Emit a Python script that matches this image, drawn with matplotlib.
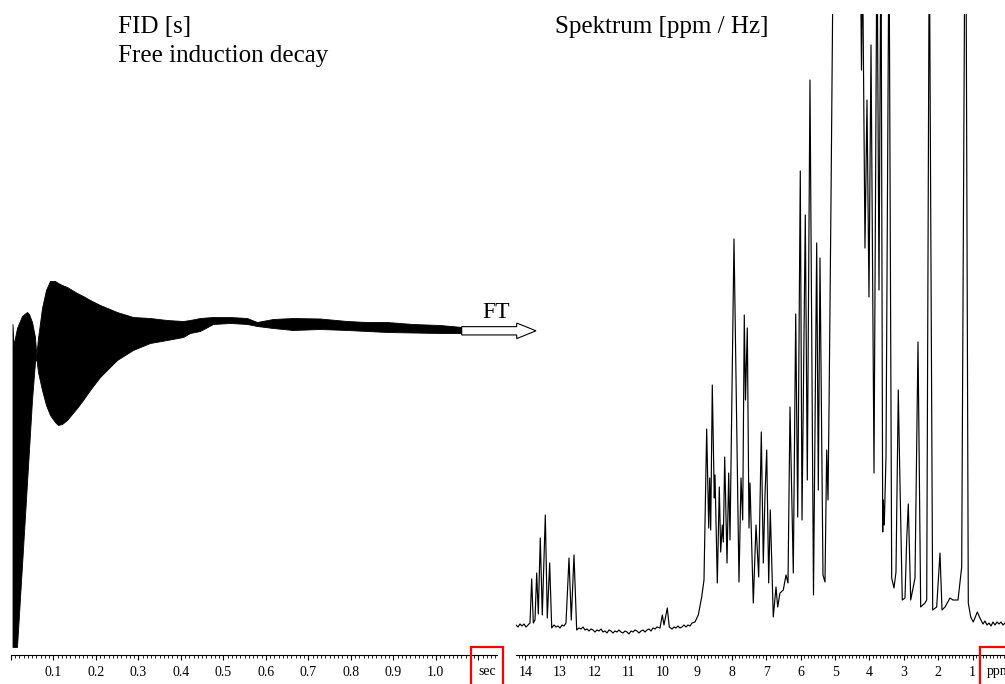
import numpy as np
import matplotlib.pyplot as plt
from matplotlib.patches import Rectangle, FancyArrow
from matplotlib.ticker import FixedLocator, FixedFormatter, MultipleLocator

plt.rcParams['font.family'] = ['Liberation Serif', 'DejaVu Serif']

## FID envelope (time in s, amplitude in arbitrary units)
fid_t = [0.0040, 0.0064, 0.0146, 0.0264, 0.0381, 0.0428, 0.0499, 0.0569, 0.0600, 0.0640,
         0.0734, 0.0828, 0.0922, 0.1040, 0.1111, 0.1205, 0.1322, 0.1558, 0.1699, 0.1864,
         0.2099, 0.2499, 0.2875, 0.3275, 0.3675, 0.4052, 0.4216, 0.4452, 0.4758, 0.5158,
         0.5558, 0.5793, 0.6169, 0.6640, 0.7275, 0.7911, 0.8381, 0.8852, 0.9464, 1.0099, 1.0616]
fid_upper = [0.6, -1.5, 0.2, 1.4, 1.8, 1.6, 0.8, -0.7, -2.5, -0.8,
             2.2, 4.0, 4.9, 4.9, 4.7, 4.5, 4.3, 3.7, 3.4, 3.0,
             2.5, 1.8, 1.3, 1.2, 1.0, 0.9, 1.0, 1.2, 1.3, 1.3,
             1.2, 0.8, 1.1, 1.2, 1.15, 0.9, 0.8, 0.8, 0.6, 0.5, 0.3]
fid_lower = [-31.7, -31.7, -31.7, -23.5, -15.3, -12.0, -7.0, -3.2, -2.8, -4.2,
             -6.0, -7.5, -8.5, -9.2, -9.5, -9.4, -9.0, -7.8, -7.0, -6.0,
             -4.7, -3.0, -2.0, -1.3, -1.0, -0.7, -0.3, -0.1, 0.6, 0.7,
             0.6, 0.4, 0.2, 0.0, 0.1, 0.0, -0.1, -0.2, -0.25, -0.3, -0.3]

## 1H spectrum (ppm, intensity in arbitrary units), one row per region
spec_ppm = [
    14.276, 14.218, 14.160, 14.102, 14.044, 13.986, 13.927, 13.869,
    13.820, 13.773, 13.724, 13.674, 13.628, 13.570, 13.512, 13.424, 13.366, 13.297,
    13.238, 13.172, 13.113, 13.055, 12.997, 12.939, 12.881, 12.823,
    12.735, 12.669, 12.590,
    12.512, 12.445, 12.387, 12.328, 12.270, 12.212, 12.154, 12.096, 12.038, 11.980,
    11.922, 11.864, 11.805, 11.747, 11.689, 11.631, 11.573, 11.515, 11.456, 11.398,
    11.340, 11.282, 11.224, 11.166, 11.108, 11.049, 10.991, 10.933, 10.875, 10.817,
    10.759, 10.701, 10.642, 10.584, 10.526, 10.468, 10.410, 10.352, 10.294, 10.235,
    10.177, 10.090,
    10.023, 9.974, 9.878,
    9.820, 9.741, 9.683, 9.625, 9.567, 9.509, 9.451, 9.392, 9.334, 9.276, 9.218, 9.160, 9.073,
    8.977, 8.878, 8.811, 8.733, 8.674, 8.645, 8.616, 8.570, 8.512, 8.491,
    8.424, 8.366, 8.326, 8.279, 8.250, 8.209, 8.142, 8.093, 8.055, 7.939,
    7.794, 7.735, 7.686, 7.640, 7.605, 7.552, 7.503, 7.474, 7.378, 7.299,
    7.221, 7.145, 7.087, 7.038, 6.988, 6.930, 6.884, 6.797, 6.718, 6.669,
    6.602, 6.506, 6.427, 6.369,
    6.311, 6.215, 6.145, 6.087, 6.012, 5.962, 5.866, 5.808, 5.730, 5.628,
    5.535, 5.488, 5.439, 5.352, 5.294, 5.244, 5.206, 5.177, 5.119, 5.032,
    4.625, 4.276,
    4.233, 4.203, 4.131, 4.073, 4.015, 3.956, 3.869, 3.782, 3.724, 3.666,
    3.616, 3.599, 3.570, 3.520, 3.433,
    3.355, 3.288, 3.230, 3.163, 3.128, 3.047, 2.968, 2.919, 2.872, 2.802,
    2.727, 2.677, 2.590, 2.512, 2.387, 2.337, 2.262, 2.163, 2.047, 1.951,
    1.892, 1.805, 1.660, 1.573, 1.427, 1.320, 1.209, 1.128, 1.058, 0.983,
    0.866,
    0.788, 0.701, 0.642, 0.584, 0.526, 0.468, 0.410, 0.352, 0.294, 0.235,
    0.177, 0.119, 0.061,
]
spec_int = [
    5, 3, 6, 4, 6, 3, 5, 7,
    51, 7, 10, 57, 16, 92, 15, 115, 12, 67,
    2, 5, 3, 4, 2, 5, 4, 7,
    72, 10, 75,
    0, 2, 1, 3, 0, 1, -1, 1, 0, -2,
    0, -1, 1, -2, -1, -3, 0, -1, -3, -1,
    -2, 0, -2, -3, -1, -2, -4, -1, -2, 0,
    -1, -3, -1, 0, -2, 0, 1, -1, 2, 1,
    3, 2,
    15, 5, 22,
    3, 1, 3, 2, 4, 2, 3, 5, 3, 5, 4, 7, 8,
    15, 33, 50, 201, 102, 152, 100, 245, 132, 155,
    47, 143, 78, 105, 88, 173, 67, 157, 90, 391,
    48, 152, 110, 315, 230, 302, 102, 147, 27, 105,
    53, 198, 67, 135, 180, 47, 120, 13, 43, 23,
    37, 40, 55, 47,
    223, 57, 316, 113, 459, 110, 415, 150, 550, 35,
    387, 140, 372, 55, 48, 180, 130, 220, 430, 780,
    1030, 730,
    560, 680, 382, 530, 333, 585, 157, 710, 340, 710,
    98, 130, 105, 174, 710,
    52, 42, 58, 240, 172, 30, 32, 90, 126, 30,
    43, 52, 288, 23, 27, 30, 710, 20, 23, 77,
    20, 23, 32, 30, 30, 63, 830, 27, 13, 8,
    18,
    12, 6, 9, 5, 7, 4, 8, 5, 8, 6,
    8, 5, 7,
]

fid_ticks = [round(0.1 * i, 1) for i in range(12)]
fid_labels = ['' if v in (0.0, 1.1) else f'{v:.1f}' for v in fid_ticks]
ppm_ticks = list(range(1, 15))

fig = plt.figure(figsize=(10.05, 6.84), dpi=100)

ax1 = fig.add_axes([10.8 / 1005, 29 / 684, 486.2 / 1005, 641 / 684])
ax2 = fig.add_axes([516 / 1005, 29 / 684, 489 / 1005, 641 / 684])

ax1.fill_between(fid_t, fid_lower, fid_upper, color='black', lw=0.6)
ax1.set_xlim(0, 1.144)
ax1.set_ylim(-32.5, 31.6)
ax1.xaxis.set_major_locator(FixedLocator(fid_ticks))
ax1.xaxis.set_major_formatter(FixedFormatter(fid_labels))
ax1.xaxis.set_minor_locator(MultipleLocator(0.01))

ax2.plot(spec_ppm, spec_int, color='black', lw=0.85)
ax2.set_xlim(14.276, 0.061)
ax2.set_ylim(-25, 616)
ax2.xaxis.set_major_locator(FixedLocator(ppm_ticks))
ax2.xaxis.set_minor_locator(MultipleLocator(0.1))

for ax in (ax1, ax2):
    ax.patch.set_alpha(0)
    for s in ('top', 'left', 'right'):
        ax.spines[s].set_visible(False)
    ax.spines['bottom'].set_linewidth(0.8)
    ax.set_yticks([])
    ax.tick_params(axis='x', which='major', direction='out', length=3.6, width=0.8,
                   labelsize=10, pad=4)
    ax.tick_params(axis='x', which='minor', direction='out', length=1.8, width=0.6)

ax1.text(1.12, -0.0265, 'sec', transform=ax1.get_xaxis_transform(),
         ha='center', va='center', fontsize=10)
ax2.text(0.58, -0.0265, 'ppm', transform=ax2.get_xaxis_transform(),
         ha='left', va='center', fontsize=10, clip_on=False)

fig.text(118 / 1005, 1 - 33 / 684, 'FID [s]', fontsize=18, va='baseline')
fig.text(118 / 1005, 1 - 62 / 684, 'Free induction decay', fontsize=18, va='baseline')
fig.text(555 / 1005, 1 - 33 / 684, 'Spektrum [ppm / Hz]', fontsize=18, va='baseline')
fig.text(495.8 / 1005, 1 - 318 / 684, 'FT', fontsize=17, ha='center', va='baseline')

arrow = FancyArrow(4.617, 3.532, 0.743, 0, width=0.083, head_width=0.156,
                   head_length=0.193, length_includes_head=True,
                   fc='white', ec='black', lw=0.8, transform=fig.dpi_scale_trans)
fig.add_artist(arrow)

for x0, w in ((471, 32), (980, 60)):
    fig.add_artist(Rectangle((x0 / 1005, -0.05), w / 1005, 37 / 684 + 0.05,
                             transform=fig.transFigure, fill=False,
                             ec='red', lw=1.6))

fig.savefig('out.png', dpi=100)
